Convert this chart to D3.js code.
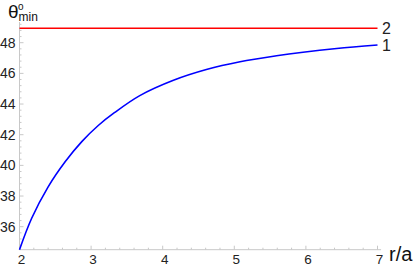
<!DOCTYPE html>
<html>
<head>
<meta charset="utf-8">
<script src="https://cdn.jsdelivr.net/npm/d3@7"></script>
<style>
  body { margin: 0; background: #fff; }
  svg { display: block; font-family: "Liberation Sans", Arial, sans-serif; }
</style>
</head>
<body>
<svg id="chart"></svg>
<script>
// curve 1 (blue)
var rVals = [2.0, 2.17, 2.40, 2.64, 2.87, 3.10, 3.33, 3.68, 4.15, 4.61, 5.08, 5.59, 5.96, 6.43, 7.0];
var thetaVals = [34.5, 36.55, 38.6, 40.25, 41.55, 42.6, 43.45, 44.55, 45.55, 46.25, 46.76, 47.15, 47.38, 47.62, 47.85];
// curve 2 (red), constant
var limitR = [2.0, 7.0];
var limitTheta = [48.94, 48.94];
var xTicks = [2, 3, 4, 5, 6, 7];
var yTicks = [36, 38, 40, 42, 44, 46, 48];

var width = 415, height = 267;
var svg = d3.select("#chart").attr("width", width).attr("height", height);

var x = d3.scaleLinear().domain([2, 7]).range([19.5, 377.5]);
var y = d3.scaleLinear().domain([34.5, 49.35]).range([249.7, 22]);

var axisColor = "#c8c8c8";
var g = svg.append("g");

// axis lines
g.append("line").attr("x1", x(2)).attr("x2", x(7.05)).attr("y1", y(34.5)).attr("y2", y(34.5))
    .attr("stroke", axisColor);
g.append("line").attr("x1", x(2)).attr("x2", x(2)).attr("y1", y(34.5)).attr("y2", y(49.35))
    .attr("stroke", axisColor);

// minor and major ticks, pointing inward
var xMinor = d3.range(2, 7.001, 0.2);
g.selectAll(".xminor").data(xMinor).enter().append("line")
    .attr("x1", d => x(d)).attr("x2", d => x(d))
    .attr("y1", y(34.5)).attr("y2", d => xTicks.some(t => Math.abs(t - d) < 1e-6) ? y(34.5) - 4 : y(34.5) - 2)
    .attr("stroke", axisColor);

var yMinor = d3.range(34.8, 49.3, 0.4);
g.selectAll(".yminor").data(yMinor).enter().append("line")
    .attr("x1", x(2)).attr("x2", d => yTicks.some(t => Math.abs(t - d) < 1e-6) ? x(2) + 4 : x(2) + 2)
    .attr("y1", d => y(d)).attr("y2", d => y(d))
    .attr("stroke", axisColor);

// tick labels
g.selectAll(".xl").data(xTicks).enter().append("text")
    .attr("x", d => x(d) + 2).attr("y", 264)
    .attr("text-anchor", "middle").attr("font-size", 13.5).attr("fill", "#222")
    .text(d => d);
g.selectAll(".yl").data(yTicks).enter().append("text")
    .attr("x", 15.5).attr("y", d => y(d) + 5)
    .attr("text-anchor", "end").attr("font-size", 14).attr("fill", "#222")
    .text(d => d);

// lines
var line = d3.line().x(d => x(d[0])).y(d => y(d[1])).curve(d3.curveCatmullRom.alpha(0.5));
g.append("path").datum(d3.zip(limitR, limitTheta)).attr("d", line)
    .attr("fill", "none").attr("stroke", "#ff0000").attr("stroke-width", 1.6);
g.append("path").datum(d3.zip(rVals, thetaVals)).attr("d", line)
    .attr("fill", "none").attr("stroke", "#0000ff").attr("stroke-width", 1.6);

// curve labels
g.append("text").attr("x", 382).attr("y", y(48.94) + 6).attr("font-size", 16).attr("fill", "#222").text("2");
g.append("text").attr("x", 382).attr("y", y(47.85) + 6).attr("font-size", 16).attr("fill", "#222").text("1");

// axis titles
g.append("text").attr("x", 389).attr("y", 261).attr("font-size", 20).attr("fill", "#111").text("r/a");
var t = g.append("text").attr("x", 8).attr("y", 18).attr("font-size", 19).attr("fill", "#111");
t.append("tspan").text("θ");
t.append("tspan").attr("x", 18).attr("y", 9.5).attr("font-size", 10).text("o");
t.append("tspan").attr("x", 18.5).attr("y", 21).attr("font-size", 12).text("min");
</script>
</body>
</html>
